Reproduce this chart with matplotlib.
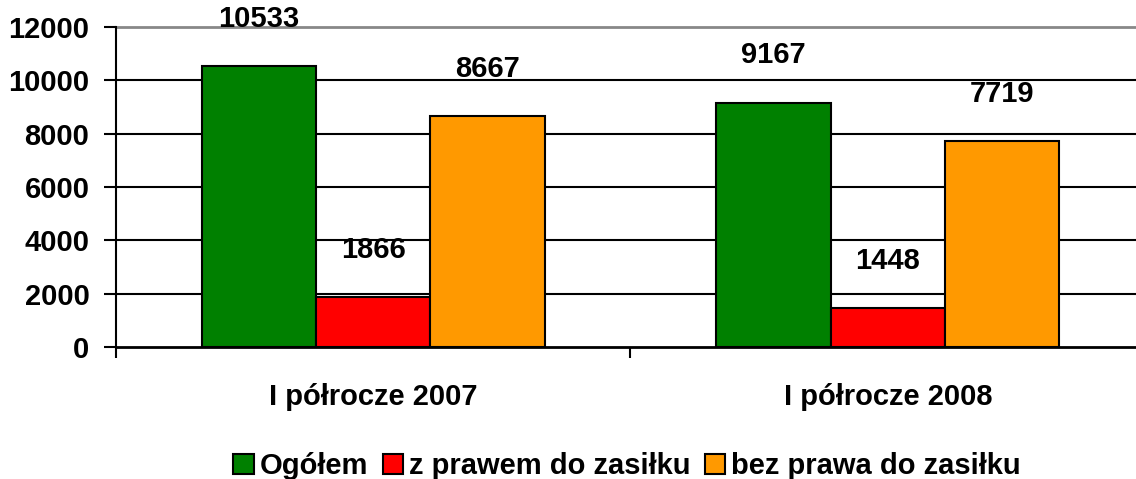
import numpy as np
import matplotlib
matplotlib.use("Agg")
import matplotlib.pyplot as plt

categories = ["I półrocze 2007", "I półrocze 2008"]
series_names = ["Ogółem", "z prawem do zasiłku", "bez prawa do zasiłku"]
ogolem = [10533, 9167]
z_prawem = [1866, 1448]
bez_prawa = [8667, 7719]
colors = ["#008000", "#FF0000", "#FF9900"]
yticks = [0, 2000, 4000, 6000, 8000, 10000, 12000]

plt.rcParams['font.family'] = ['Liberation Sans', 'DejaVu Sans']
plt.rcParams['font.weight'] = 'bold'

fig = plt.figure(figsize=(11.36, 4.79), dpi=100)
# the plot area runs a little past the right edge of the picture
ax = fig.add_axes([0.102, 0.2756, 0.906, 0.668])

x = np.arange(len(categories))
w = 0.222
for i, (vals, name) in enumerate(zip([ogolem, z_prawem, bez_prawa], series_names)):
    pos = x + (i - 1) * w
    ax.bar(pos, vals, width=w, color=colors[i], edgecolor="black", linewidth=1.5,
           label=name, zorder=3)
    for p, v in zip(pos, vals):
        ax.annotate(str(v), (p, v), xytext=(0, 34), textcoords="offset points",
                    ha="center", va="center", fontsize=21, fontweight="bold", zorder=4)

ax.set_xlim(-0.5, 1.5)
ax.set_ylim(0, 12000)
ax.set_yticks(yticks)
ax.set_yticklabels([str(t) for t in yticks], fontsize=21, fontweight="bold")
ax.set_xticks(x)
ax.set_xticklabels(categories, fontsize=21, fontweight="bold")
ax.tick_params(axis="x", length=0, pad=26)
ax.set_xticks([-0.5, 0.5, 1.5], minor=True)
ax.tick_params(axis="x", which="minor", length=8, width=1.5, direction="out")
ax.tick_params(axis="y", length=9, width=1.5, direction="out", pad=10)

for t in yticks[1:-1]:
    ax.axhline(t, color="black", linewidth=1.5, zorder=1)
ax.axhline(12000, color="#888888", linewidth=2, zorder=1, clip_on=False)

for s in ["top", "right"]:
    ax.spines[s].set_visible(False)
ax.spines["left"].set_linewidth(1.5)
ax.spines["bottom"].set_linewidth(2)

fig.legend(loc="lower center", bbox_to_anchor=(0.552, -0.057), ncol=3, frameon=False,
           handlelength=0.7, handleheight=0.7, handletextpad=0.2,
           columnspacing=0.5, prop={"weight": "bold", "size": 21})

fig.savefig("out.png", dpi=100)
